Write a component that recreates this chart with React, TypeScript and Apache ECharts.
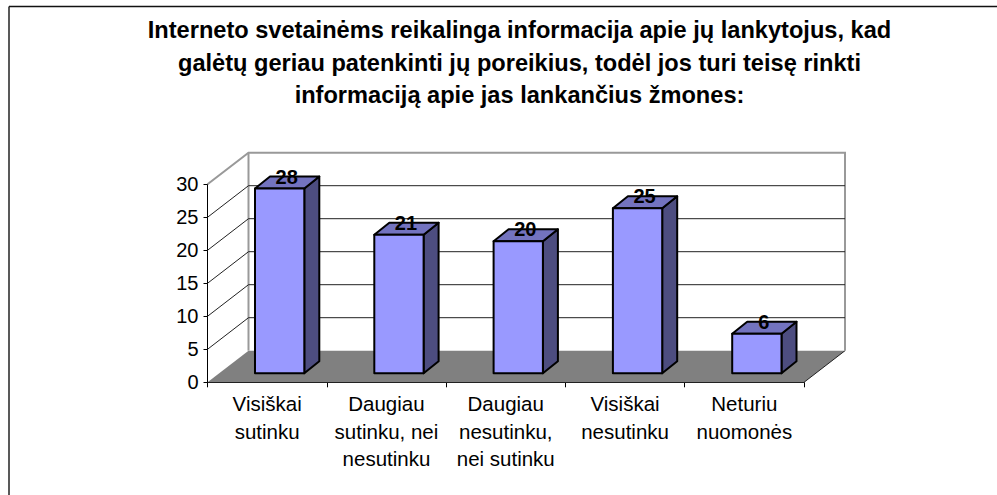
import React, { useEffect, useRef } from "react";
import * as echarts from "echarts";

const titleLines = [
  "Interneto svetainėms reikalinga informacija apie jų lankytojus, kad",
  "galėtų geriau patenkinti jų poreikius, todėl jos turi teisę rinkti",
  "informaciją apie jas lankančius žmones:",
];
const categories = [
  "Visiškai\nsutinku",
  "Daugiau\nsutinku, nei\nnesutinku",
  "Daugiau\nnesutinku,\nnei sutinku",
  "Visiškai\nnesutinku",
  "Neturiu\nnuomonės",
];
const values = [28, 21, 20, 25, 6];
const gridTicks = [5, 10, 15, 20, 25];
const topTick = 30;

const FONT = "'Liberation Sans', Arial, sans-serif";
const DEPTH_X = 41;
const DEPTH_Y = 31.6;
const BAR_W = 49.3;
const BAR_SHIFT = 12.5;
const BAR_LIFT = 9;
const SIDE_X = 15;
const SIDE_Y = 12;

export default function App() {
  const ref = useRef<HTMLDivElement>(null);
  useEffect(() => {
    const chart = echarts.init(ref.current!, undefined, { renderer: "svg" });
    chart.setOption({
      animation: false,
      backgroundColor: "#fff",
      title: {
        text: titleLines.join("\n"),
        left: 514.5,
        top: 9,
        textAlign: "center",
        textStyle: { fontFamily: FONT, fontSize: 23.6, fontWeight: "bold", color: "#000", lineHeight: 32.5 },
      },
      grid: { left: 207.5, top: 184.3, right: 193, bottom: 112.7 },
      xAxis: {
        type: "category",
        data: categories,
        axisLine: { lineStyle: { color: "#000", width: 1 } },
        axisTick: { show: true, length: 5, alignWithLabel: false, lineStyle: { color: "#000" } },
        axisLabel: { interval: 0, margin: 7.5, fontFamily: FONT, fontSize: 20.5, lineHeight: 27.5, color: "#000" },
      },
      yAxis: {
        type: "value",
        min: 0,
        max: 30,
        interval: 5,
        splitLine: { show: false },
        axisLine: { show: true, lineStyle: { color: "#000", width: 1 } },
        axisTick: { show: true, length: 4, lineStyle: { color: "#000" } },
        axisLabel: { margin: 9, fontFamily: FONT, fontSize: 20, color: "#000" },
      },
      graphic: [
        { type: "line", shape: { x1: 9, y1: 6.5, x2: 997, y2: 6.5 }, style: { stroke: "#111", lineWidth: 1.5 } },
        { type: "line", shape: { x1: 9, y1: 6.5, x2: 9, y2: 495 }, style: { stroke: "#222", lineWidth: 1.5 } },
      ],
      series: [
        {
          type: "custom",
          coordinateSystem: "cartesian2d",
          z: 1,
          silent: true,
          data: [[topTick]],
          renderItem: (params: any, api: any) => {
            const cs = params.coordSys;
            const xL = cs.x, xR = cs.x + cs.width;
            const y0 = api.coord([0, 0])[1];
            const yT = api.coord([0, api.value(0)])[1];
            const children: any[] = [];
            children.push({
              type: "polygon",
              shape: { points: [[xL, y0], [xR, y0], [xR + DEPTH_X, y0 - DEPTH_Y], [xL + DEPTH_X, y0 - DEPTH_Y]] },
              style: { fill: "#808080", stroke: "none" },
            });
            children.push({
              type: "line",
              shape: { x1: xR, y1: y0, x2: xR + DEPTH_X, y2: y0 - DEPTH_Y },
              style: { stroke: "#222", lineWidth: 1 },
            });
            children.push({
              type: "polyline",
              shape: {
                points: [
                  [xL, yT],
                  [xL + DEPTH_X, yT - DEPTH_Y],
                  [xR + DEPTH_X, yT - DEPTH_Y],
                  [xR + DEPTH_X, y0 - DEPTH_Y],
                ],
              },
              style: { fill: "none", stroke: "#999", lineWidth: 2 },
            });
            children.push({
              type: "line",
              shape: { x1: xL + DEPTH_X, y1: yT - DEPTH_Y, x2: xL + DEPTH_X, y2: y0 - DEPTH_Y },
              style: { stroke: "#999", lineWidth: 2 },
            });
            return { type: "group", children };
          },
        },
        {
          type: "custom",
          coordinateSystem: "cartesian2d",
          z: 1,
          silent: true,
          data: gridTicks.map((t) => [t]),
          renderItem: (params: any, api: any) => {
            const cs = params.coordSys;
            const xL = cs.x, xR = cs.x + cs.width;
            const y = api.coord([0, api.value(0)])[1];
            return {
              type: "polyline",
              shape: { points: [[xL, y], [xL + DEPTH_X, y - DEPTH_Y], [xR + DEPTH_X, y - DEPTH_Y]] },
              style: { fill: "none", stroke: "#222", lineWidth: 1 },
            };
          },
        },
        {
          type: "custom",
          coordinateSystem: "cartesian2d",
          z: 3,
          silent: true,
          data: values.map((v, i) => [i, v]),
          renderItem: (_params: any, api: any) => {
            const p = api.coord([api.value(0), api.value(1)]);
            const base = api.coord([api.value(0), 0]);
            const x0 = p[0] + BAR_SHIFT - BAR_W / 2;
            const x1 = x0 + BAR_W;
            const yTop = p[1] - BAR_LIFT;
            const yBase = base[1] - BAR_LIFT;
            const stroke = { stroke: "#000", lineWidth: 2, lineJoin: "round" };
            return {
              type: "group",
              children: [
                {
                  type: "polygon",
                  shape: { points: [[x1, yTop], [x1 + SIDE_X, yTop - SIDE_Y], [x1 + SIDE_X, yBase - SIDE_Y], [x1, yBase]] },
                  style: { fill: "#4D4D80", ...stroke },
                },
                {
                  type: "polygon",
                  shape: { points: [[x0, yTop], [x0 + SIDE_X, yTop - SIDE_Y], [x1 + SIDE_X, yTop - SIDE_Y], [x1, yTop]] },
                  style: { fill: "#7373BF", ...stroke },
                },
                {
                  type: "rect",
                  shape: { x: x0, y: yTop, width: BAR_W, height: yBase - yTop },
                  style: { fill: "#9999FF", ...stroke },
                },
                {
                  type: "text",
                  style: {
                    x: (x0 + x1) / 2 + 7,
                    y: yTop - 12,
                    text: String(api.value(1)),
                    align: "center",
                    verticalAlign: "middle",
                    fontFamily: FONT,
                    fontSize: 20,
                    fontWeight: "bold",
                    fill: "#000",
                  },
                },
              ],
            };
          },
        },
      ],
    });
    return () => chart.dispose();
  }, []);
  return <div ref={ref} style={{ position: "fixed", left: 0, top: 0, width: 997, height: 495 }} />;
}
